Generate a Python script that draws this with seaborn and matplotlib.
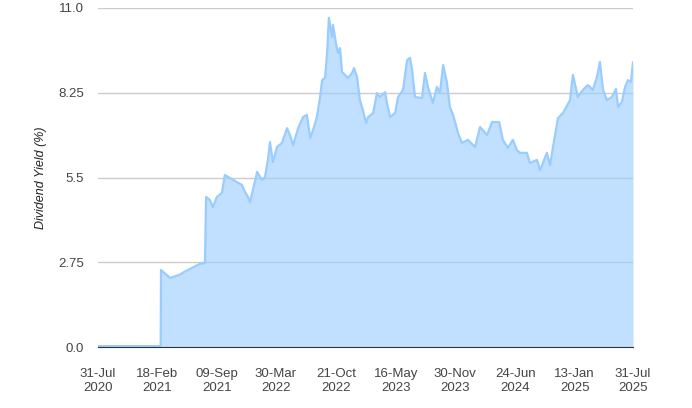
import pandas as pd
import seaborn as sns
import matplotlib.pyplot as plt

dates = [
    "2020-07-31", "2021-03-02", "2021-03-03", "2021-04-03", "2021-05-07", "2021-05-24",
    "2021-07-14", "2021-07-31", "2021-08-04", "2021-08-17", "2021-08-27", "2021-09-10",
    "2021-09-27", "2021-10-07", "2021-10-25", "2021-11-17", "2021-12-04", "2021-12-15",
    "2021-12-25", "2022-01-01", "2022-01-11", "2022-01-25", "2022-02-11", "2022-02-21",
    "2022-03-03", "2022-03-10", "2022-03-20", "2022-04-03", "2022-04-20", "2022-05-07",
    "2022-05-17", "2022-05-28", "2022-06-14", "2022-07-01", "2022-07-14", "2022-07-25",
    "2022-08-04", "2022-08-17", "2022-08-28", "2022-09-04", "2022-09-14", "2022-09-21",
    "2022-09-27", "2022-10-08", "2022-10-11", "2022-10-21", "2022-10-28", "2022-11-04",
    "2022-11-11", "2022-11-21", "2022-12-01", "2022-12-15", "2022-12-22", "2023-01-01",
    "2023-01-11", "2023-01-21", "2023-02-01", "2023-02-08", "2023-02-25", "2023-03-10",
    "2023-03-20", "2023-04-07", "2023-04-13", "2023-04-24", "2023-05-11", "2023-05-21",
    "2023-06-07", "2023-06-21", "2023-07-01", "2023-07-08", "2023-07-18", "2023-08-11",
    "2023-08-21", "2023-08-31", "2023-09-17", "2023-10-01", "2023-10-11", "2023-10-22",
    "2023-11-04", "2023-11-14", "2023-11-25", "2023-12-12", "2023-12-25", "2024-01-15",
    "2024-02-08", "2024-02-25", "2024-03-20", "2024-04-06", "2024-04-30", "2024-05-13",
    "2024-05-30", "2024-06-16", "2024-06-30", "2024-07-10", "2024-08-03", "2024-08-13",
    "2024-09-06", "2024-09-17", "2024-10-10", "2024-10-21", "2024-10-31", "2024-11-17",
    "2024-12-04", "2024-12-28", "2025-01-07", "2025-01-24", "2025-02-10", "2025-02-27",
    "2025-03-16", "2025-03-30", "2025-04-09", "2025-04-20", "2025-05-03", "2025-05-20",
    "2025-06-03", "2025-06-10", "2025-06-23", "2025-07-04", "2025-07-14", "2025-07-24",
    "2025-07-31",
]
yields = [
    0.03, 0.03, 2.50, 2.24, 2.35, 2.45,
    2.70, 2.72, 4.87, 4.77, 4.54, 4.87,
    5.00, 5.58, 5.48, 5.35, 5.26, 5.03,
    4.87, 4.70, 5.10, 5.68, 5.42, 5.52,
    6.07, 6.65, 6.00, 6.49, 6.62, 7.10,
    6.88, 6.55, 7.10, 7.46, 7.53, 6.78,
    7.04, 7.46, 8.11, 8.66, 8.73, 9.54,
    10.68, 10.06, 10.45, 9.86, 9.54, 9.70,
    8.92, 8.83, 8.73, 8.89, 9.05, 8.76,
    8.01, 7.69, 7.27, 7.46, 7.59, 8.24,
    8.11, 8.27, 7.92, 7.46, 7.59, 8.11,
    8.34, 9.31, 9.38, 8.99, 8.11, 8.08,
    8.89, 8.44, 7.92, 8.44, 8.24, 9.15,
    8.57, 7.79, 7.53, 6.94, 6.62, 6.72,
    6.49, 7.14, 6.88, 7.30, 7.30, 6.72,
    6.46, 6.72, 6.39, 6.30, 6.30, 5.97,
    6.07, 5.74, 6.30, 5.90, 6.49, 7.43,
    7.59, 8.01, 8.83, 8.11, 8.34, 8.50,
    8.34, 8.76, 9.25, 8.34, 8.01, 8.11,
    8.37, 7.79, 7.95, 8.44, 8.66, 8.60,
    9.25,
]
tick_dates = ["2020-07-31", "2021-02-18", "2021-09-09", "2022-03-30", "2022-10-21",
              "2023-05-16", "2023-11-30", "2024-06-24", "2025-01-13", "2025-07-31"]
y_ticks = [0.0, 2.75, 5.5, 8.25, 11.0]
y_labels = ["0.0", "2.75", "5.5", "8.25", "11.0"]

df = pd.DataFrame({"date": pd.to_datetime(dates), "yield": yields})

sns.set_style("white")
plt.rcParams["font.family"] = ["Liberation Sans", "DejaVu Sans"]

fig = plt.figure(figsize=(6.92, 4.08), dpi=100)
ax = fig.add_axes([98 / 692, 1 - 347 / 408, 535 / 692, 339 / 408])

# area under the line, semi transparent so the grid shows through
ax.fill_between(df["date"], df["yield"], 0, color="#99ccff", alpha=0.6, linewidth=0, zorder=2)
sns.lineplot(data=df, x="date", y="yield", ax=ax, color="#99ccff", linewidth=1.6, zorder=3)

ax.set_xlim(pd.Timestamp("2020-07-31"), pd.Timestamp("2025-07-31"))
ax.set_ylim(0, 11)
ax.set_yticks(y_ticks)
ax.set_yticklabels(y_labels)
ticks = pd.to_datetime(tick_dates)
ax.set_xticks(ticks)
ax.set_xticklabels([t.strftime("%d-%b\n%Y") for t in ticks])

ax.grid(axis="y", color="#cccccc", linewidth=1, zorder=1)
ax.set_axisbelow(True)
for s in ["top", "right", "left"]:
    ax.spines[s].set_visible(False)
ax.spines["bottom"].set_color("#333333")
ax.spines["bottom"].set_zorder(5)
ax.tick_params(axis="both", length=0, labelsize=9.5, colors="#444444")
ax.tick_params(axis="x", pad=15)
ax.tick_params(axis="y", pad=10)
ax.set_xlabel("")
ax.set_ylabel("Dividend Yield (%)", fontsize=9, style="italic", color="#222222", labelpad=8.5)

fig.savefig("out.png", dpi=100)
